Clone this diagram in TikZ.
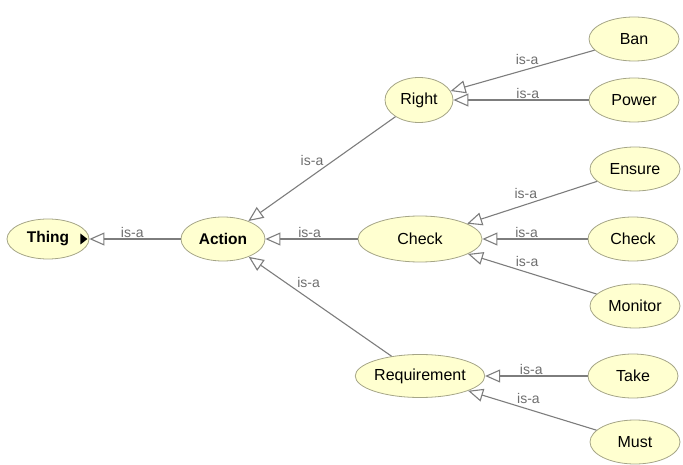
\documentclass[tikz,border=0pt]{standalone}
\usepackage{fontspec}
\setmainfont{Liberation Sans}
\usetikzlibrary{shapes.geometric,arrows.meta}
\definecolor{nodefill}{RGB}{255,255,208}
\definecolor{nodeline}{RGB}{165,165,135}
\definecolor{edgegray}{RGB}{125,125,125}
\definecolor{labelgray}{RGB}{110,110,110}

\begin{document}
\begin{tikzpicture}[x=1pt,y=-1pt,
    cls/.style={ellipse,draw=nodeline,fill=nodefill,line width=0.8pt,inner sep=0pt,
      minimum width=90pt,minimum height=44pt,font=\fontsize{16}{18}\selectfont},
    rootcls/.style={cls,font=\fontsize{15.5}{18}\selectfont\bfseries},
    isa/.style={draw=edgegray,line width=1.1pt,-{Triangle[open,length=15pt,width=13pt]}},
    lbl/.style={text=labelgray,inner sep=1pt,font=\fontsize{14}{16}\selectfont}]
\useasboundingbox (0,0) rectangle (683,465);
% classes
\node[rootcls,minimum width=82pt,minimum height=40pt] (thing) at (48,239) {Thing};
\node[rootcls,minimum width=84pt,minimum height=44pt] (action) at (223,239) {Action};
\node[cls,minimum width=68pt,minimum height=45pt] (right) at (419,100) {Right};
\node[cls,minimum width=124pt,minimum height=46pt] (check) at (420,239) {Check};
\node[cls,minimum width=116pt,minimum height=43pt] (requirement) at (420,376) {Requirement};
\node[cls] (ban) at (634,39) {Ban};
\node[cls] (power) at (634,100) {Power};
\node[cls] (ensure) at (635,169) {Ensure};
\node[cls] (check2) at (633,239) {Check};
\node[cls] (monitor) at (635,306) {Monitor};
\node[cls] (take) at (633,376) {Take};
\node[cls] (must) at (635,442) {Must};
% expand mark
\fill (thing.east) ++(-2,0) -- ++(-7,-5.5) -- ++(0,11) -- cycle;
% is-a links
\draw[isa] (action) -- node[lbl,pos=0.53,anchor=south]{is-a} (thing);
\draw[isa] (right) -- node[lbl,pos=0.48,anchor=south east]{is-a} (action);
\draw[isa] (check) -- node[lbl,pos=0.52,anchor=south]{is-a} (action);
\draw[isa] (requirement) -- node[lbl,pos=0.67,anchor=south west]{is-a} (action);
\draw[isa] (ban) -- node[lbl,pos=0.38,anchor=south east]{is-a} (right);
\draw[isa] (power) -- node[lbl,pos=0.45,anchor=south]{is-a} (right);
\draw[isa] (ensure) -- node[lbl,pos=0.45,anchor=south east]{is-a} (check);
\draw[isa] (check2) -- node[lbl,pos=0.58,anchor=south]{is-a} (check);
\draw[isa] (monitor) -- node[lbl,pos=0.64,anchor=south west]{is-a} (check);
\draw[isa] (take) -- node[lbl,pos=0.55,anchor=south]{is-a} (requirement);
\draw[isa] (must) -- node[lbl,pos=0.63,anchor=south west]{is-a} (requirement);
\end{tikzpicture}
\end{document}
